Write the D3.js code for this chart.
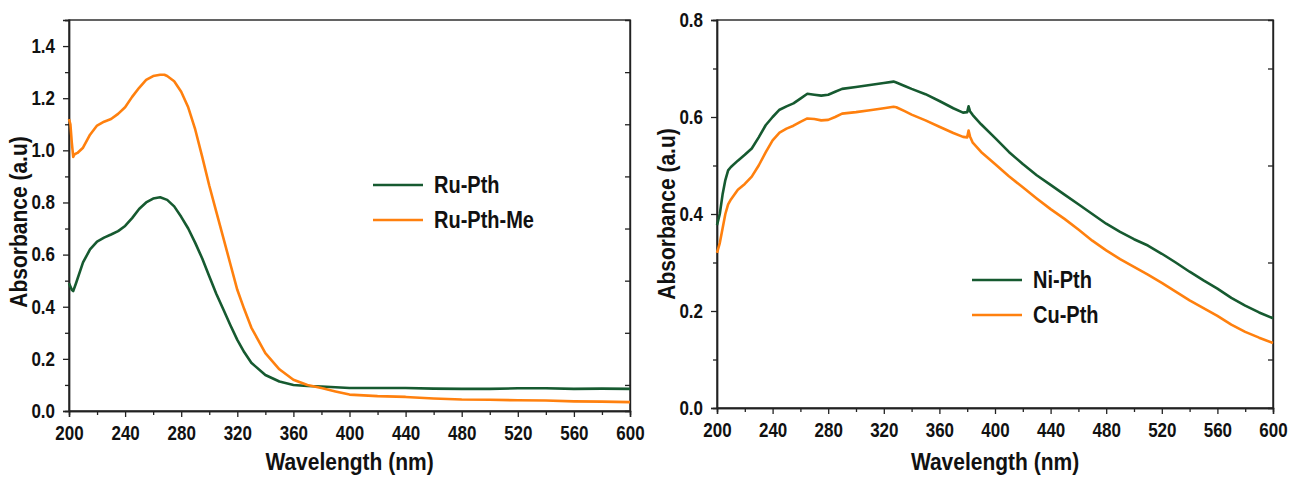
<!DOCTYPE html>
<html>
<head>
<meta charset="utf-8">
<script src="https://cdn.jsdelivr.net/npm/d3@7"></script>
<style>
  body { margin: 0; background: #fff; }
  svg text { font-family: "Liberation Sans", Arial, sans-serif; font-weight: bold; fill: #111; }
</style>
</head>
<body>
<div class="vis-chart"></div>
<script>
// left panel: Ru complexes
const ruPthWl = [200,202,203,205,210,215,220,225,230,235,240,245,250,255,260,265,270,275,280,285,290,295,300,305,310,315,320,325,330,
  340,350,360,370,380,390,400,420,440,460,480,500,520,540,560,580,600];
const ruPth = [0.49,0.465,0.46,0.49,0.57,0.62,0.65,0.665,0.677,0.69,0.71,0.74,0.775,0.80,0.815,0.82,0.81,0.785,0.745,0.70,0.645,0.585,0.517,0.45,0.39,0.33,0.273,0.225,0.185,
  0.138,0.113,0.10,0.096,0.094,0.091,0.088,0.088,0.088,0.086,0.085,0.085,0.087,0.087,0.085,0.086,0.085];
const ruPthMeWl = [200,201,202,203,204,206,210,215,220,225,230,235,240,245,250,255,260,265,268,270,275,280,285,290,295,300,305,310,315,320,325,330,
  340,350,360,370,380,390,400,420,440,460,480,500,520,540,560,580,600];
const ruPthMe = [1.12,1.10,1.03,0.975,0.985,0.99,1.01,1.06,1.095,1.11,1.12,1.14,1.165,1.205,1.24,1.27,1.285,1.29,1.29,1.285,1.265,1.225,1.165,1.08,0.975,0.865,0.765,0.665,0.565,0.465,0.39,0.32,
  0.222,0.16,0.12,0.10,0.088,0.075,0.063,0.057,0.054,0.048,0.044,0.043,0.041,0.04,0.037,0.036,0.034];

// right panel: Ni / Cu complexes
const niCuWl = [200,202,204,206,208,210,215,220,225,230,235,240,245,250,255,260,265,270,275,280,285,290,
  300,310,320,327,329,335,340,350,360,370,377,380,381,382,384,390,
  400,410,420,430,440,450,460,470,480,490,500,510,520,530,540,550,560,570,580,590,600];
const niPth = [0.377,0.40,0.44,0.47,0.49,0.497,0.51,0.522,0.535,0.558,0.583,0.60,0.615,0.622,0.628,0.638,0.648,0.646,0.644,0.646,0.652,0.658,
  0.662,0.666,0.67,0.673,0.671,0.664,0.658,0.647,0.633,0.618,0.609,0.61,0.622,0.612,0.604,0.585,
  0.557,0.528,0.503,0.48,0.46,0.44,0.42,0.4,0.38,0.363,0.348,0.335,0.318,0.3,0.281,0.263,0.246,0.227,0.211,0.197,0.185];
const cuPth = [0.32,0.34,0.37,0.40,0.42,0.43,0.45,0.462,0.477,0.50,0.527,0.552,0.568,0.576,0.582,0.59,0.597,0.596,0.593,0.594,0.60,0.607,
  0.61,0.614,0.618,0.621,0.62,0.612,0.605,0.593,0.58,0.567,0.559,0.558,0.572,0.56,0.547,0.528,
  0.503,0.478,0.455,0.432,0.41,0.39,0.368,0.345,0.325,0.307,0.291,0.275,0.258,0.24,0.222,0.206,0.19,0.172,0.157,0.145,0.134];

const xTicks = [200,240,280,320,360,400,440,480,520,560,600];
const xMinor = [220,260,300,340,380,420,460,500,540,580];
const yTicksLeft = [0.0,0.2,0.4,0.6,0.8,1.0,1.2,1.4];
const yMinorLeft = [0.1,0.3,0.5,0.7,0.9,1.1,1.3,1.5];
const yTicksRight = [0.0,0.2,0.4,0.6,0.8];
const yMinorRight = [0.1,0.3,0.5,0.7];

const green = "#165a30", orange = "#ff800e";
const stretch = "scale(1,1.15)";

const svg = d3.select(".vis-chart").append("svg")
  .attr("width", 1290).attr("height", 477);

function drawPanel(p) {
  const x = d3.scaleLinear().domain([200, 600]).range([p.left, p.right]);
  const y = d3.scaleLinear().domain([0, p.yMax]).range([p.bottom, p.top]);
  const g = svg.append("g");

  // frame
  g.append("rect")
    .attr("x", p.left).attr("y", p.top)
    .attr("width", p.right - p.left).attr("height", p.bottom - p.top)
    .attr("fill", "none").attr("stroke", "#222").attr("stroke-width", 1.4);

  // x axis
  const xa = g.append("g").attr("transform", "translate(0," + p.bottom + ")")
    .call(d3.axisBottom(x).tickValues(xTicks).tickSize(6).tickPadding(7).tickFormat(d3.format("d")));
  g.append("g").attr("transform", "translate(0," + p.bottom + ")")
    .call(d3.axisBottom(x).tickValues(xMinor).tickSize(4).tickFormat(""));

  // y axis
  const ya = g.append("g").attr("transform", "translate(" + p.left + ",0)")
    .call(d3.axisLeft(y).tickValues(p.yTicks).tickSize(6).tickPadding(8).tickFormat(d3.format(".1f")));
  g.append("g").attr("transform", "translate(" + p.left + ",0)")
    .call(d3.axisLeft(y).tickValues(p.yMinor).tickSize(4).tickFormat(""));
  // inward ticks on the right edge
  g.append("g").attr("transform", "translate(" + p.right + ",0)")
    .call(d3.axisLeft(y).tickValues(p.yMinor.filter(v => v < p.yMax)).tickSize(5).tickFormat(""));

  g.selectAll(".domain").attr("stroke", "#222").attr("stroke-width", 1.4);
  g.selectAll(".tick line").attr("stroke", "#222").attr("stroke-width", 1.3);
  [xa, ya].forEach(a => a.selectAll("text")
    .attr("font-size", 17).attr("fill", "#111")
    .attr("font-family", "Liberation Sans, Arial, sans-serif").attr("font-weight", "bold")
    .attr("transform", stretch));

  // lines
  const line = d3.line().x(d => x(d[0])).y(d => y(d[1]));
  p.series.forEach(s => {
    const pts = s.wl.map((w, i) => [w, s.values[i]]);
    g.append("path").datum(pts)
      .attr("d", line)
      .attr("fill", "none")
      .attr("stroke", s.color)
      .attr("stroke-width", 2.6)
      .attr("stroke-linejoin", "round");
  });

  // legend
  p.series.forEach((s, i) => {
    const ly = p.legendY + i * 35;
    g.append("line")
      .attr("x1", p.legendX).attr("x2", p.legendX + 50)
      .attr("y1", ly).attr("y2", ly)
      .attr("stroke", s.color).attr("stroke-width", 2.6);
    g.append("text")
      .attr("transform", "translate(" + (p.legendX + 61) + "," + (ly + 8) + ") " + stretch)
      .attr("font-size", 20)
      .text(s.name);
  });

  // axis titles
  g.append("text")
    .attr("transform", "translate(" + ((p.left + p.right) / 2) + ",470) " + stretch)
    .attr("text-anchor", "middle").attr("font-size", 21)
    .text("Wavelength (nm)");
  g.append("text")
    .attr("transform", "translate(" + (p.left - 42) + "," + p.yTitle + ") rotate(-90) " + stretch)
    .attr("text-anchor", "middle").attr("font-size", 21)
    .text("Absorbance (a.u)");
}

drawPanel({
  left: 69, right: 630, top: 20, bottom: 411, yMax: 1.5,
  yTicks: yTicksLeft, yMinor: yMinorLeft, yTitle: 222,
  legendX: 373, legendY: 185,
  series: [
    {name: "Ru-Pth", wl: ruPthWl, values: ruPth, color: green},
    {name: "Ru-Pth-Me", wl: ruPthMeWl, values: ruPthMe, color: orange}
  ]
});

drawPanel({
  left: 717, right: 1273, top: 20, bottom: 408, yMax: 0.8,
  yTicks: yTicksRight, yMinor: yMinorRight, yTitle: 214,
  legendX: 972, legendY: 280,
  series: [
    {name: "Ni-Pth", wl: niCuWl, values: niPth, color: green},
    {name: "Cu-Pth", wl: niCuWl, values: cuPth, color: orange}
  ]
});
</script>
</body>
</html>
